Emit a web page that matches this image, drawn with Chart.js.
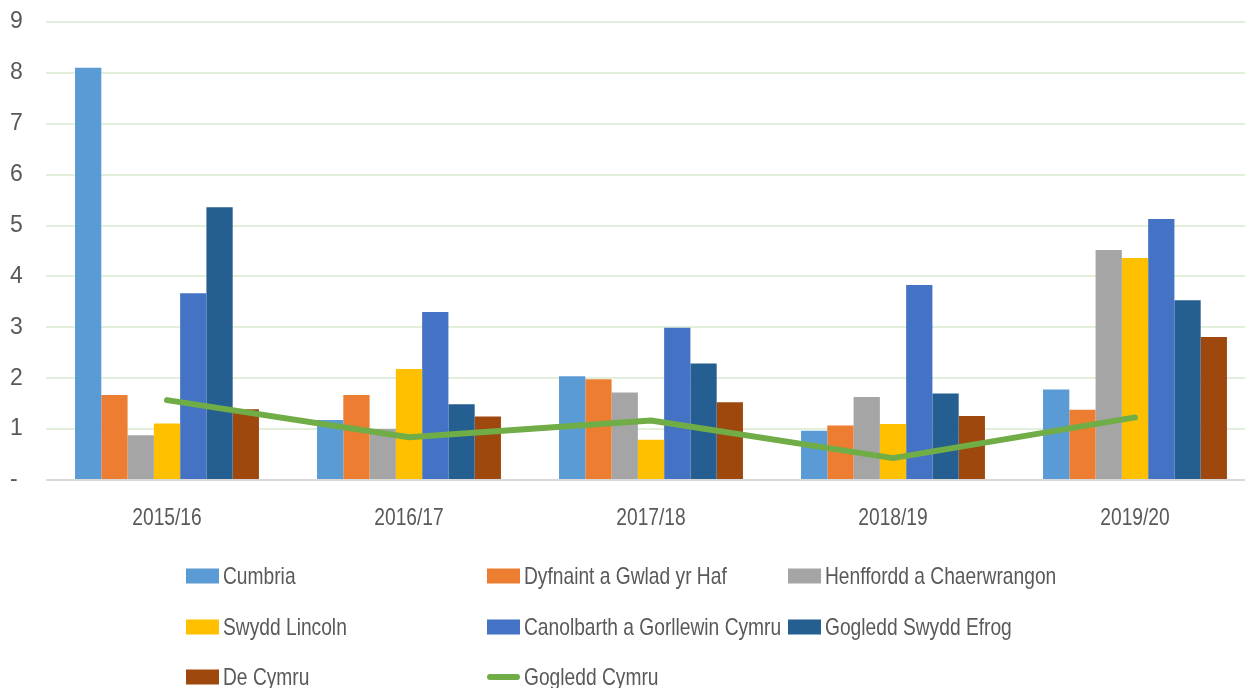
<!DOCTYPE html>
<html>
<head>
<meta charset="utf-8">
<script src="https://cdn.jsdelivr.net/npm/chart.js@4/dist/chart.umd.min.js"></script>
<style>
    html, body { margin: 0; padding: 0; background: #ffffff; overflow: hidden; }
    #wrap { position: relative; width: 1256px; height: 688px; }
</style>
</head>
<body>
<div id="wrap"><canvas id="chart"></canvas></div>
<script>
    const categories = ["2015/16", "2016/17", "2017/18", "2018/19", "2019/20"];

    // series values
    const cumbria = [8.1, 1.18, 2.04, 0.97, 1.78];
    const dyfnaint = [1.67, 1.67, 1.98, 1.07, 1.38];
    const henffordd = [0.88, 1.0, 1.72, 1.63, 4.52];
    const swyddLincoln = [1.11, 2.18, 0.79, 1.10, 4.36];
    const canolbarth = [3.67, 3.30, 2.99, 3.83, 5.13];
    const gogleddSwyddEfrog = [5.36, 1.49, 2.29, 1.70, 3.53];
    const deCymru = [1.39, 1.25, 1.53, 1.26, 2.81];
    const gogleddCymru = [1.57, 0.84, 1.17, 0.43, 1.23];

    const yTicks = [0, 1, 2, 3, 4, 5, 6, 7, 8, 9];

    const FONT = "'Liberation Sans Narrow', 'Liberation Sans', Arial, sans-serif";
    const TEXT = "#595959";
    // no narrow font installed, so text is squeezed sideways instead
    const SQUEEZE = 0.8;

    const bar = (label, data, color) => ({
        type: "bar",
        label: label,
        data: data,
        backgroundColor: color,
        borderWidth: 0,
        order: 1
    });

    const narrowText = (ctx, text, x, y, align) => {
        ctx.save();
        ctx.translate(x, y);
        ctx.scale(SQUEEZE, 1);
        ctx.textAlign = align;
        ctx.fillText(text, 0, 0);
        ctx.restore();
    };

    // Category labels under the bars, placed by the x scale.
    const xLabels = {
        id: "xLabels",
        afterDraw: (chart, args, opts) => {
            const {ctx} = chart;
            const xScale = chart.scales.x;
            ctx.save();
            ctx.font = opts.font;
            ctx.fillStyle = opts.color;
            ctx.textBaseline = "middle";
            xScale.ticks.forEach((t, i) => {
                narrowText(ctx, xScale.getLabelForValue(t.value), xScale.getPixelForTick(i),
                    chart.chartArea.bottom + opts.offset, "center");
            });
            ctx.restore();
        }
    };

    // Legend drawn in three fixed columns, like the original.
    const gridLegend = {
        id: "gridLegend",
        afterDraw: (chart, args, opts) => {
            const {ctx} = chart;
            ctx.save();
            ctx.font = opts.font;
            ctx.textBaseline = "middle";
            chart.data.datasets.forEach((ds, i) => {
                const x = opts.columns[i % opts.columns.length];
                const y = opts.rows[Math.floor(i / opts.columns.length)];
                if (ds.type === "line") {
                    ctx.strokeStyle = ds.borderColor;
                    ctx.lineWidth = 6;
                    ctx.lineCap = "round";
                    ctx.beginPath();
                    ctx.moveTo(x + 3, y);
                    ctx.lineTo(x + opts.boxWidth - 3, y);
                    ctx.stroke();
                } else {
                    ctx.fillStyle = ds.backgroundColor;
                    ctx.fillRect(x, y - opts.boxHeight / 2, opts.boxWidth, opts.boxHeight);
                }
                ctx.fillStyle = opts.color;
                narrowText(ctx, ds.label, x + opts.boxWidth + 4, y + 1, "left");
            });
            ctx.restore();
        }
    };

    const ctx = document.getElementById("chart").getContext("2d");

    new Chart(ctx, {
        data: {
            labels: categories,
            datasets: [
                bar("Cumbria", cumbria, "#5b9bd5"),
                bar("Dyfnaint a Gwlad yr Haf", dyfnaint, "#ed7d31"),
                bar("Henffordd a Chaerwrangon", henffordd, "#a5a5a5"),
                bar("Swydd Lincoln", swyddLincoln, "#ffc000"),
                bar("Canolbarth a Gorllewin Cymru", canolbarth, "#4472c4"),
                bar("Gogledd Swydd Efrog", gogleddSwyddEfrog, "#255e91"),
                bar("De Cymru", deCymru, "#9e480e"),
                {
                    type: "line",
                    label: "Gogledd Cymru",
                    data: gogleddCymru,
                    borderColor: "#70ad47",
                    backgroundColor: "#70ad47",
                    borderWidth: 6,
                    borderCapStyle: "round",
                    borderJoinStyle: "round",
                    pointRadius: 0,
                    tension: 0,
                    order: 0
                }
            ]
        },
        options: {
            responsive: true,
            maintainAspectRatio: false,
            animation: false,
            layout: {
                padding: { top: 22, left: 10, right: 0, bottom: 150 }
            },
            datasets: {
                bar: { categoryPercentage: 0.76, barPercentage: 1.0 }
            },
            plugins: {
                legend: { display: false },
                tooltip: { enabled: false },
                xLabels: {
                    font: "24px " + FONT,
                    color: TEXT,
                    offset: 38
                },
                gridLegend: {
                    font: "24px " + FONT,
                    color: TEXT,
                    columns: [186, 487, 788],
                    rows: [576, 627, 677],
                    boxWidth: 33,
                    boxHeight: 15
                }
            },
            scales: {
                x: {
                    offset: true,
                    grid: { display: false, drawTicks: false },
                    border: { display: false },
                    ticks: { display: false },
                    afterFit: (scale) => { scale.height = 58; }
                },
                y: {
                    min: 0,
                    max: 9,
                    afterBuildTicks: (scale) => {
                        scale.ticks = yTicks.map((v) => ({ value: v }));
                    },
                    grid: {
                        drawTicks: false,
                        lineWidth: 2,
                        color: (c) => (c.tick && c.tick.value === 0 ? "#d9d9d9" : "#e2efda")
                    },
                    border: { display: false },
                    ticks: {
                        color: TEXT,
                        font: { family: FONT, size: 23 },
                        crossAlign: "far",
                        callback: (v) => (v === 0 ? "-" : v)
                    },
                    afterFit: (scale) => { scale.width = 36; }
                }
            }
        },
        plugins: [xLabels, gridLegend]
    });
</script>
</body>
</html>
